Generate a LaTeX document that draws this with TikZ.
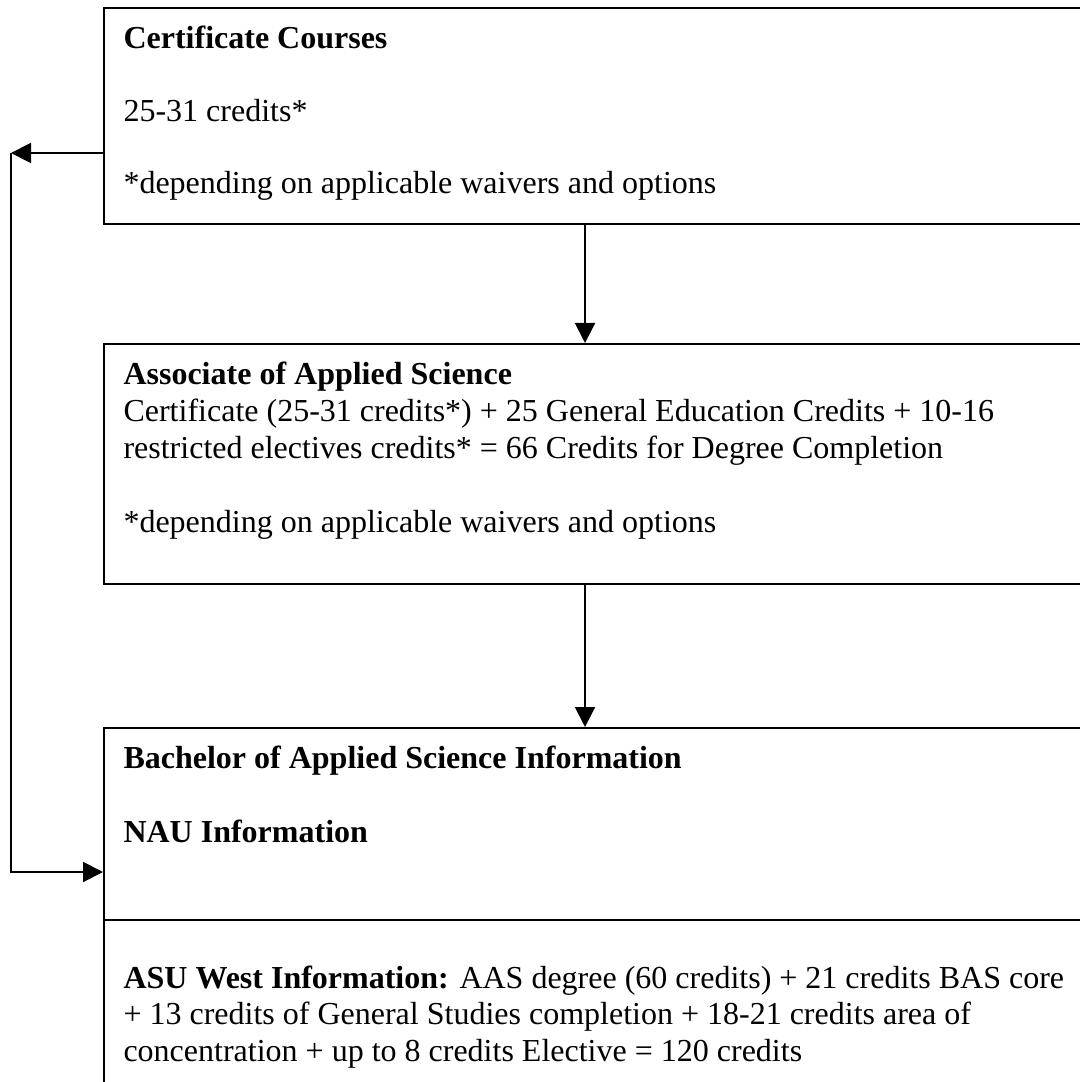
\documentclass[tikz,border=0pt]{standalone}
\usepackage{fontspec}
\setmainfont{Liberation Serif}
\usetikzlibrary{arrows.meta,fit}
\newcommand{\blocco}[1]{\parbox[t]{400pt}{\raggedright #1}}
\tikzset{
  box/.style={draw, line width=0.75pt, inner sep=0pt},
  txt/.style={anchor=base west, inner sep=0pt, font=\fontsize{12}{13.7}\selectfont},
  arr/.style={-{Triangle[length=7.5pt,width=7.5pt]}, line width=0.75pt},
}
\begin{document}
\begin{tikzpicture}[x=0.375pt, y=-0.375pt]
         \useasboundingbox (0,0) rectangle (1079,1082);
         %riquadri
         \node[box, fit={(104,8) (1090,224)}] (cert) {};
         \node[box, fit={(104,344) (1090,584)}] (aas) {};
         \node[box, fit={(104,728) (1090,920)}] (bas) {};
         \node[box, fit={(104,920) (1090,1100)}] (asu) {};
         %testi
         \node[txt] (certhead) at (123,49) {\textbf{Certificate Courses}};
         \node[txt] (certcred) at (123,122) {25-31 credits*};
         \node[txt] (certnote) at (123,194) {*depending on applicable waivers and options};
         \node[txt] (aastext) at (123,385) {\blocco{\textbf{Associate of Applied Science}\\
            Certificate (25-31 credits*) + 25 General Education Credits + 10-16\\
            restricted electives credits* = 66 Credits for Degree Completion}};
         \node[txt] (aasnote) at (123,532) {*depending on applicable waivers and options};
         \node[txt] (bashead) at (123,768) {\textbf{Bachelor of Applied Science Information}};
         \node[txt] (nau) at (123,842) {\textbf{NAU Information}};
         \node[txt] (asutext) at (123,988) {\blocco{\textbf{ASU West Information:} AAS degree (60 credits) + 21 credits BAS core\\
            + 13 credits of General Studies completion + 18-21 credits area of\\
            concentration + up to 8 credits Elective = 120 credits}};
         %frecce
         \coordinate (mid) at (585,0);
         \coordinate (c1) at (11,153);
         \coordinate (c2) at (11,872);
         \draw[arr] (cert.south -| mid) -- (aas.north -| mid);
         \draw[arr] (aas.south -| mid) -- (bas.north -| mid);
         \draw[arr] (cert.west |- c1) -- (c1);
         \draw[arr] (c1) -- (c2) -- (bas.west |- c2);
      \end{tikzpicture}
\end{document}
